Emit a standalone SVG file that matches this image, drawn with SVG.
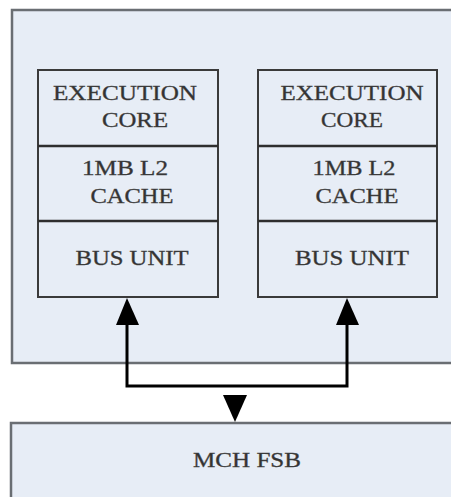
<svg xmlns="http://www.w3.org/2000/svg" width="451" height="497" viewBox="0 0 451 497">
<style>
.outer{fill:#e7edf6;stroke:#6a6e73;stroke-width:2.5}
.box{fill:#e7edf6;stroke:#3a3a3a;stroke-width:2}
.div{stroke:#2e2e2e;stroke-width:2.5}
.t{font-family:"Liberation Serif","Times New Roman",serif;font-size:21px;fill:#333333;stroke:#444444;stroke-width:0.35;text-anchor:middle}
.conn{fill:none;stroke:#000;stroke-width:3}
.head{fill:#000}
</style>
<rect x="0" y="0" width="451" height="497" fill="#ffffff"/>
<g id="processor">
<rect class="outer" x="12" y="10" width="445" height="353"/>
</g>
<g id="core1">
<rect class="box" x="38" y="70" width="180" height="227"/>
<line class="div" x1="38" y1="146" x2="218" y2="146"/>
<line class="div" x1="38" y1="221" x2="218" y2="221"/>
<text class="t" x="125" y="100" textLength="144" lengthAdjust="spacingAndGlyphs">EXECUTION</text>
<text class="t" x="135" y="127" textLength="66" lengthAdjust="spacingAndGlyphs">CORE</text>
<text class="t" x="125" y="175" textLength="86" lengthAdjust="spacingAndGlyphs">1MB L2</text>
<text class="t" x="132" y="203" textLength="83" lengthAdjust="spacingAndGlyphs">CACHE</text>
<text class="t" x="132" y="265" textLength="113" lengthAdjust="spacingAndGlyphs">BUS UNIT</text>
</g>
<g id="core2">
<rect class="box" x="258" y="70" width="179" height="227"/>
<line class="div" x1="258" y1="146" x2="437" y2="146"/>
<line class="div" x1="258" y1="221" x2="437" y2="221"/>
<text class="t" x="352" y="100" textLength="143" lengthAdjust="spacingAndGlyphs">EXECUTION</text>
<text class="t" x="352" y="127" textLength="62" lengthAdjust="spacingAndGlyphs">CORE</text>
<text class="t" x="354" y="175" textLength="83" lengthAdjust="spacingAndGlyphs">1MB L2</text>
<text class="t" x="357" y="203" textLength="83" lengthAdjust="spacingAndGlyphs">CACHE</text>
<text class="t" x="352" y="265" textLength="114" lengthAdjust="spacingAndGlyphs">BUS UNIT</text>
</g>
<g id="mch">
<rect class="outer" x="11" y="423" width="446" height="90"/>
<text class="t" x="247" y="467" textLength="108" lengthAdjust="spacingAndGlyphs">MCH FSB</text>
</g>
<g id="connectors">
<polyline class="conn" points="127,323 127,386 347,386 347,323"/>
<polygon class="head" points="127,298 116,325 139,325"/>
<polygon class="head" points="347,298 336,325 359,325"/>
<polygon class="head" points="223,395 247,395 235,422"/>
</g>
</svg>
